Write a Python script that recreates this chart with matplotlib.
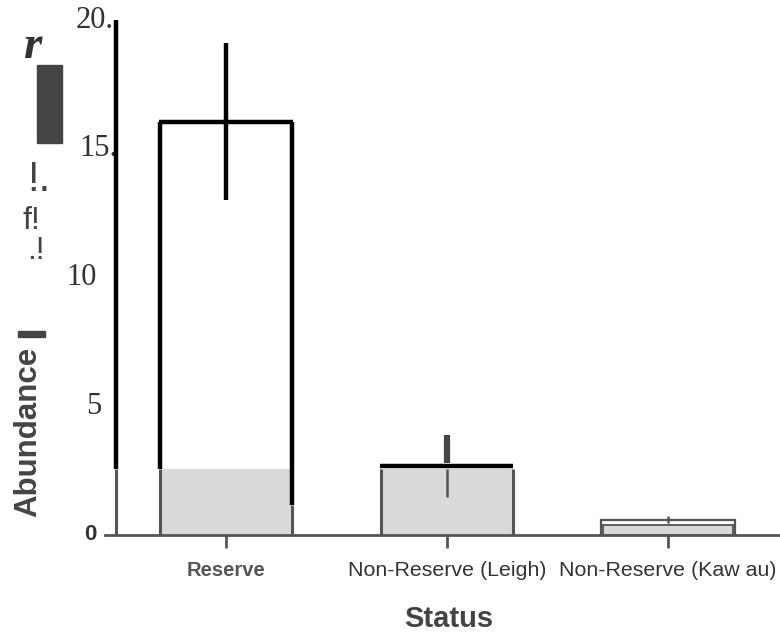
import matplotlib
matplotlib.use("Agg")
import matplotlib.pyplot as plt
import matplotlib.transforms as mtransforms
from matplotlib.patches import Rectangle
import numpy as np

# data
categories = ["Reserve", "Non-Reserve (Leigh)", "Non-Reserve (Kaw au)"]
base_means = [2.56, 2.56, 0.58]          # grey bars of the scanned chart
base_inner = [np.nan, np.nan, 0.40]      # inner outline of the small bar
base_err_low = [np.nan, 1.48, 0.45]
base_err_high = [np.nan, 2.56, 0.72]
overlay_means = [16.05, 2.68, np.nan]    # black redrawn bars
overlay_err_low = [13.0, 2.8, np.nan]
overlay_err_high = [19.1, 3.88, np.nan]
reserve_right_bottom = 1.17
y_ticks = [0, 5, 10, 15, 20]
y_ticklabels = ["0", "5", "10", "15.", "20."]

W, H = 780, 632
GREY_FILL = "#d9d9d9"
GREY_EDGE = "#555555"
SERIF = "Liberation Serif"
SANS = "Liberation Sans"

fig = plt.figure(figsize=(W / 100, H / 100), dpi=100)
ax = fig.add_axes([105 / W, 97 / H, 675 / W, 515 / H])
ax.set_xlim(-0.5475, 2.507)
ax.set_ylim(0, 20)

x = np.arange(len(categories))
width = 0.595

# scanned grey bars
ax.bar(x, base_means, width=width, color=GREY_FILL, edgecolor="none", zorder=1)
ax.bar(x[2], base_means[2], width=0.61, color="white", edgecolor=GREY_EDGE,
       linewidth=1.6, zorder=2)
ax.bar(x[2], base_inner[2], width=0.585, color=GREY_FILL, edgecolor=GREY_EDGE,
       linewidth=1.3, zorder=2)
ax.vlines([x[1] - width / 2, x[1] + width / 2], 0, base_means[1],
          color=GREY_EDGE, linewidth=2.2, zorder=3)
ax.vlines(x[1:], base_err_low[1:], base_err_high[1:], color=GREY_EDGE,
          linewidth=1.8, zorder=4)

# black overlay for Reserve
left, right = x[0] - width / 2, x[0] + width / 2
ax.hlines(overlay_means[0], left - 0.007, right + 0.007, color="black",
          linewidth=3.2, zorder=5)
ax.vlines(left, base_means[0], overlay_means[0], color="black", linewidth=3.2, zorder=5)
ax.vlines(right, reserve_right_bottom, overlay_means[0], color="black",
          linewidth=3.2, zorder=5)
ax.vlines(left, 0, base_means[0], color=GREY_EDGE, linewidth=2.2, zorder=4)
ax.vlines(right, 0, reserve_right_bottom, color=GREY_EDGE, linewidth=2.2, zorder=4)
ax.vlines(x[0], overlay_err_low[0], overlay_err_high[0], color="black",
          linewidth=3.2, zorder=5)

# black overlay for Leigh
ax.hlines(overlay_means[1], x[1] - 0.305, x[1] + 0.3, color="black",
          linewidth=3.2, zorder=5)
ax.vlines(x[1], overlay_err_low[1], overlay_err_high[1], color="#444444",
          linewidth=4.5, zorder=5)

# axes
axis_x = -0.498
ax.vlines(axis_x, base_means[0], 20, color="black", linewidth=3.2, zorder=5)
ax.vlines(axis_x, 0, base_means[0], color=GREY_EDGE, linewidth=2.2, zorder=4)
for side in ["left", "top", "right"]:
    ax.spines[side].set_visible(False)
ax.spines["bottom"].set_color(GREY_EDGE)
ax.spines["bottom"].set_linewidth(2.0)

ax.set_yticks([])
trans = mtransforms.blended_transform_factory(ax.transAxes, ax.transData)
label_x = [-0.012, -0.006, -0.012, 0.018, 0.013]
for yv, lab, lx in zip(y_ticks, y_ticklabels, label_x):
    if lab == "0":
        ax.text(lx, yv, lab, transform=trans, ha="right", va="center",
                fontsize=16, fontweight="bold", family=SANS, color="#333333")
    else:
        ax.text(lx, yv, lab, transform=trans, ha="right", va="center",
                fontsize=22, family=SERIF, color="#333333")

ax.set_xticks(x)
ax.tick_params(axis="x", length=9, width=2, color=GREY_EDGE, pad=10)
ax.set_xticklabels(categories)
for i, t in enumerate(ax.get_xticklabels()):
    t.set_family(SANS)
    t.set_color("#333333")
    if i == 0:
        t.set_fontsize(14.5)
        t.set_fontweight("bold")
        t.set_color("#555555")
    else:
        t.set_fontsize(15.4)

fig.text(449 / W, 1 - 627 / H, "Status", ha="center", va="baseline",
         fontsize=21, fontweight="bold", family=SANS, color="#444444")
fig.text(28 / W, 1 - 432 / H, "Abundance", ha="center", va="center", rotation=90,
         fontsize=22.5, fontweight="bold", family=SANS, color="#444444")

# scan artefacts on the left
fig.patches.append(Rectangle((37 / W, 1 - 143 / H), 25 / W, 78 / H,
                             transform=fig.transFigure, color="#444444"))
fig.patches.append(Rectangle((18 / W, 1 - 337 / H), 27 / W, 6 / H,
                             transform=fig.transFigure, color="#444444"))
fig.text(32 / W, 1 - 47 / H, "r", ha="center", va="center", fontsize=34,
         fontweight="bold", fontstyle="italic", family=SERIF, color="#333333")
fig.text(39 / W, 1 - 180 / H, "!.", ha="center", va="center", fontsize=30,
         family=SANS, color="#444444")
fig.text(31 / W, 1 - 221 / H, "f!", ha="center", va="center", fontsize=23,
         family=SANS, color="#444444")
fig.text(36 / W, 1 - 251 / H, ".!", ha="center", va="center", fontsize=23,
         family=SANS, color="#444444")

fig.savefig("out.png", dpi=100)
